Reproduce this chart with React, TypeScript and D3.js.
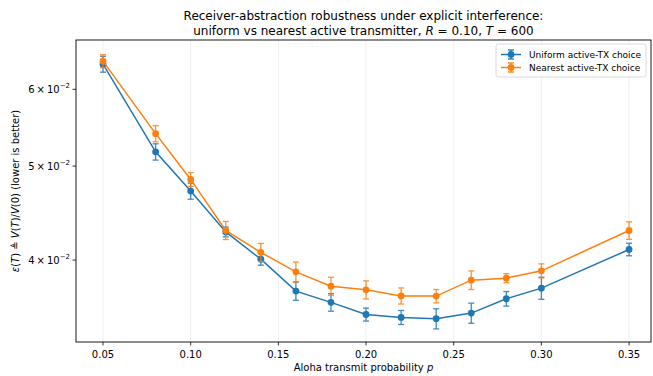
import React from "react";
import * as d3 from "d3";

const pValues = [0.05, 0.08, 0.1, 0.12, 0.14, 0.16, 0.18, 0.2, 0.22, 0.24, 0.26, 0.28, 0.3, 0.35];
const uniformMean = [0.06369, 0.05172, 0.04712, 0.04277, 0.04009, 0.03716, 0.03618, 0.03515, 0.03491, 0.0348, 0.03527, 0.03649, 0.03742, 0.04102];
const uniformErr = [0.0012, 0.001, 0.0009, 0.0005, 0.00057, 0.0008, 0.00075, 0.00054, 0.00058, 0.00083, 0.00084, 0.00063, 0.00098, 0.00061];
const nearestMean = [0.06415, 0.054, 0.04844, 0.04292, 0.04074, 0.0389, 0.0376, 0.03727, 0.03674, 0.03672, 0.03814, 0.03832, 0.03899, 0.04291];
const nearestErr = [0.00099, 0.00103, 0.0008, 0.00092, 0.00087, 0.00092, 0.0008, 0.0008, 0.0007, 0.00058, 0.00084, 0.00041, 0.00065, 0.00089];
const xTicks = [0.05, 0.1, 0.15, 0.2, 0.25, 0.3, 0.35];
const yTicks = [0.04, 0.05, 0.06];
const yTickMantissa = ["4", "5", "6"];

const series = [
  { name: "Uniform active-TX choice", mean: uniformMean, err: uniformErr, color: "#1f77b4" },
  { name: "Nearest active-TX choice", mean: nearestMean, err: nearestErr, color: "#ff7f0e" },
];

const W = 653, H = 376;
const L = 76, R = 651, T = 40, B = 342;
const FONT = "DejaVu Sans, sans-serif";

export default function App() {
  const x = d3.scaleLinear().domain([0.0346, 0.3625]).range([L, R]);
  const y = d3.scaleLog().domain([0.03293, 0.06745]).range([B, T]);
  const line = d3.line<number>().x((_, i) => x(pValues[i])).y((v) => y(v));
  const cap = 3;

  return (
    <svg width={W} height={H} style={{ position: "absolute", left: 0, top: 0 }} fontFamily={FONT}>
      <rect width={W} height={H} fill="#fff" />
      {xTicks.map((t) => (
        <line key={"g" + t} x1={x(t)} x2={x(t)} y1={T} y2={B} stroke="#ebebeb" strokeWidth={0.8} />
      ))}
      {series.map((s) => (
        <g key={s.name}>
          <path d={line(s.mean) || ""} fill="none" stroke={s.color} strokeWidth={1.5} />
          {s.mean.map((v, i) => {
            const cx = x(pValues[i]);
            const y1 = y(v + s.err[i]);
            const y2 = y(v - s.err[i]);
            return (
              <g key={i} stroke={s.color} strokeWidth={1.3} opacity={0.85}>
                <line x1={cx} x2={cx} y1={y1} y2={y2} />
                <line x1={cx - cap} x2={cx + cap} y1={y1} y2={y1} />
                <line x1={cx - cap} x2={cx + cap} y1={y2} y2={y2} />
              </g>
            );
          })}
          {s.mean.map((v, i) => (
            <circle key={"c" + i} cx={x(pValues[i])} cy={y(v)} r={3.4} fill={s.color} />
          ))}
        </g>
      ))}
      <rect x={L} y={T} width={R - L} height={B - T} fill="none" stroke="#000" strokeWidth={0.9} />
      {xTicks.map((t) => (
        <g key={"xt" + t}>
          <line x1={x(t)} x2={x(t)} y1={B} y2={B + 3.5} stroke="#000" strokeWidth={0.8} />
          <text x={x(t)} y={B + 16} fontSize={10} textAnchor="middle" fill="#000">
            {t.toFixed(2)}
          </text>
        </g>
      ))}
      {yTicks.map((t, i) => (
        <g key={"yt" + t}>
          <line x1={L - 3.5} x2={L} y1={y(t)} y2={y(t)} stroke="#000" strokeWidth={0.8} />
          <text x={L - 6} y={y(t) + 3.5} fontSize={10} textAnchor="end" fill="#000">
            {yTickMantissa[i]}
            <tspan dx={2}>×</tspan>
            <tspan dx={2}>10</tspan>
            <tspan fontSize={7} dy={-4.5}>−2</tspan>
          </text>
        </g>
      ))}
      <text x={(L + R) / 2} y={371} fontSize={10} textAnchor="middle" fill="#000">
        Aloha transmit probability <tspan fontStyle="italic">p</tspan>
      </text>
      <text transform={`translate(19,${(T + B) / 2}) rotate(-90)`} fontSize={10} textAnchor="middle" fill="#000">
        <tspan fontStyle="italic">ε</tspan>(<tspan fontStyle="italic">T</tspan>) ≜ <tspan fontStyle="italic">V</tspan>(<tspan fontStyle="italic">T</tspan>)/<tspan fontStyle="italic">V</tspan>(0) (lower is better)
      </text>
      <text x={(L + R) / 2} y={20} fontSize={12} textAnchor="middle" fill="#000">
        Receiver-abstraction robustness under explicit interference:
      </text>
      <text x={(L + R) / 2} y={35} fontSize={12} textAnchor="middle" fill="#000">
        uniform vs nearest active transmitter, <tspan fontStyle="italic">R</tspan> = 0.10, <tspan fontStyle="italic">T</tspan> = 600
      </text>
      <g>
        <rect x={496} y={44} width={150} height={33} rx={2.5} fill="#fff" fillOpacity={0.8} stroke="#d0d0d0" strokeWidth={0.8} />
        {series.map((s, i) => {
          const ly = 54.5 + i * 13;
          return (
            <g key={"lg" + i}>
              <line x1={501} x2={521} y1={ly} y2={ly} stroke={s.color} strokeWidth={1.5} />
              <line x1={511} x2={511} y1={ly - 4.5} y2={ly + 4.5} stroke={s.color} strokeWidth={1.3} />
              <line x1={508} x2={514} y1={ly - 4.5} y2={ly - 4.5} stroke={s.color} strokeWidth={1.3} />
              <line x1={508} x2={514} y1={ly + 4.5} y2={ly + 4.5} stroke={s.color} strokeWidth={1.3} />
              <circle cx={511} cy={ly} r={3.4} fill={s.color} />
              <text x={529} y={ly + 3.2} fontSize={9} fill="#000">
                {s.name}
              </text>
            </g>
          );
        })}
      </g>
    </svg>
  );
}
